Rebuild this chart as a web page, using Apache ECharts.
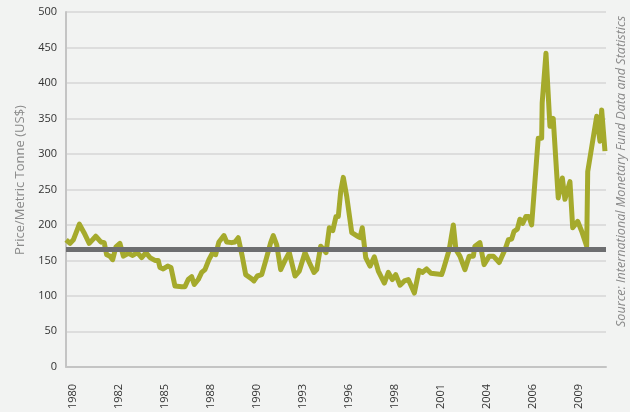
<!DOCTYPE html>
<html>
<head>
<meta charset="utf-8">
<title>Price per Metric Tonne</title>
<script src="https://cdn.jsdelivr.net/npm/echarts@6/dist/echarts.min.js"></script>
<style>
  html, body { margin: 0; padding: 0; background: #f2f3f2; }
  #chart { width: 630px; height: 412px; }
</style>
</head>
<body>
<div id="chart"></div>
<script>
// time position of each vertex, in decimal years
const years = [
  1979.6, 1979.83, 1980.02, 1980.37, 1980.64, 1980.94, 1981.32, 1981.61, 1981.81, 1981.95,
  1982.14, 1982.3, 1982.49, 1982.72, 1982.92, 1983.21, 1983.46, 1983.73, 1983.98, 1984.23,
  1984.46, 1984.75, 1984.94, 1985.04, 1985.23, 1985.49, 1985.68, 1985.91, 1986.3, 1986.49,
  1986.68, 1986.88, 1987.03, 1987.26, 1987.46, 1987.65, 1987.88, 1988.08, 1988.27, 1988.46,
  1988.75, 1988.91, 1989.2, 1989.39, 1989.58, 1989.81, 1990.01, 1990.36, 1990.49, 1990.68,
  1990.94, 1991.19, 1991.46, 1991.61, 1991.81, 1992.04, 1992.29, 1992.54, 1992.87, 1993.12,
  1993.45, 1993.7, 1993.97, 1994.13, 1994.36, 1994.67, 1994.86, 1995.06, 1995.25, 1995.38,
  1995.52, 1995.67, 1995.87, 1996.16, 1996.5, 1996.64, 1996.77, 1996.97, 1997.22, 1997.47,
  1997.7, 1998.05, 1998.28, 1998.51, 1998.71, 1998.96, 1999.21, 1999.44, 1999.79, 2000.06,
  2000.25, 2000.5, 2000.75, 2001.37, 2001.47, 2001.81, 2002.05, 2002.2, 2002.43, 2002.72,
  2002.97, 2003.21, 2003.3, 2003.59, 2003.83, 2004.13, 2004.37, 2004.71, 2005.04, 2005.24,
  2005.43, 2005.57, 2005.76, 2005.91, 2006.07, 2006.26, 2006.43, 2006.59, 2006.97, 2007.17,
  2007.2, 2007.42, 2007.65, 2007.84, 2008.13, 2008.37, 2008.52, 2008.81, 2008.97, 2009.26,
  2009.49, 2009.78, 2009.84, 2010.36, 2010.55, 2010.65, 2010.84
];
// price in US$ per metric tonne
const prices = [
  179, 174, 179, 201, 189, 174, 184, 176, 175, 158,
  156, 151, 169, 174, 156, 160, 157, 161, 154, 161,
  154, 150, 150, 140, 138, 142, 140, 114, 113, 113,
  123, 127, 116, 123, 133, 137, 151, 160, 158, 176,
  185, 176, 175, 176, 182, 156, 130, 124, 121, 128,
  130, 151, 175, 185, 172, 137, 150, 161, 128, 135,
  161, 147, 133, 137, 170, 161, 196, 192, 212, 212,
  247, 267, 240, 189, 184, 182, 196, 154, 142, 155,
  135, 118, 133, 123, 130, 115, 121, 123, 104, 136,
  133, 138, 132, 130, 137, 165, 200, 165, 156, 137,
  156, 156, 170, 175, 144, 156, 156, 147, 165, 179,
  180, 191, 194, 208, 202, 212, 212, 200, 322, 322,
  372, 442, 339, 350, 238, 266, 236, 261, 196, 205,
  191, 170, 275, 353, 318, 362, 304
];
// x labels sit every 32 months from Jan 1980
const tickYears = [0, 1, 2, 3, 4, 5, 6, 7, 8, 9, 10, 11].map(i => 1980 + i * 32 / 12);
const average = 166;

const chart = echarts.init(document.getElementById('chart'));

chart.setOption({
  backgroundColor: '#f2f3f2',
  animation: false,
  textStyle: { fontFamily: 'Open Sans' },
  grid: { left: 66, right: 24, top: 12, bottom: 45 },
  xAxis: {
    type: 'value',
    min: 1979.594,
    max: 2010.9,
    splitLine: { show: false },
    axisTick: { show: false },
    axisLine: { lineStyle: { color: '#c4c4c4', width: 2 } },
    axisLabel: {
      customValues: tickYears,
      rotate: 90,
      margin: 17,
      fontSize: 11,
      color: '#333',
      formatter: v => String(Math.floor(v + 1e-6))
    }
  },
  yAxis: {
    type: 'value',
    min: 0,
    max: 500,
    interval: 50,
    axisLine: { show: true, lineStyle: { color: '#c4c4c4', width: 2 } },
    axisTick: { show: false },
    axisLabel: { fontSize: 11, color: '#333', margin: 9 },
    splitLine: { lineStyle: { color: '#d6d6d6', width: 1.5 } }
  },
  series: [{
    type: 'line',
    data: years.map((y, i) => [y, prices[i]]),
    showSymbol: false,
    lineStyle: { color: '#a5aa2c', width: 5, join: 'round' },
    z: 2,
    markLine: {
      silent: true,
      symbol: 'none',
      label: { show: false },
      lineStyle: { color: '#6d6e70', width: 5, type: 'solid' },
      data: [{ yAxis: average }],
      z: 3
    }
  }],
  graphic: [{
    type: 'text',
    x: 20,
    y: 180,
    rotation: Math.PI / 2,
    style: {
      text: 'Price/Metric Tonne (US$)',
      fontFamily: 'Open Sans',
      fontSize: 13,
      fill: '#8a8a8a',
      textAlign: 'center',
      textVerticalAlign: 'middle'
    }
  }, {
    type: 'text',
    x: 621,
    y: 327,
    rotation: Math.PI / 2,
    style: {
      text: 'Source: International Monetary Fund Data and Statistics',
      fontFamily: 'Open Sans',
      fontStyle: 'italic',
      fontSize: 12.6,
      fill: '#8a8a8a',
      textAlign: 'left',
      textVerticalAlign: 'middle'
    }
  }]
});
</script>
</body>
</html>
